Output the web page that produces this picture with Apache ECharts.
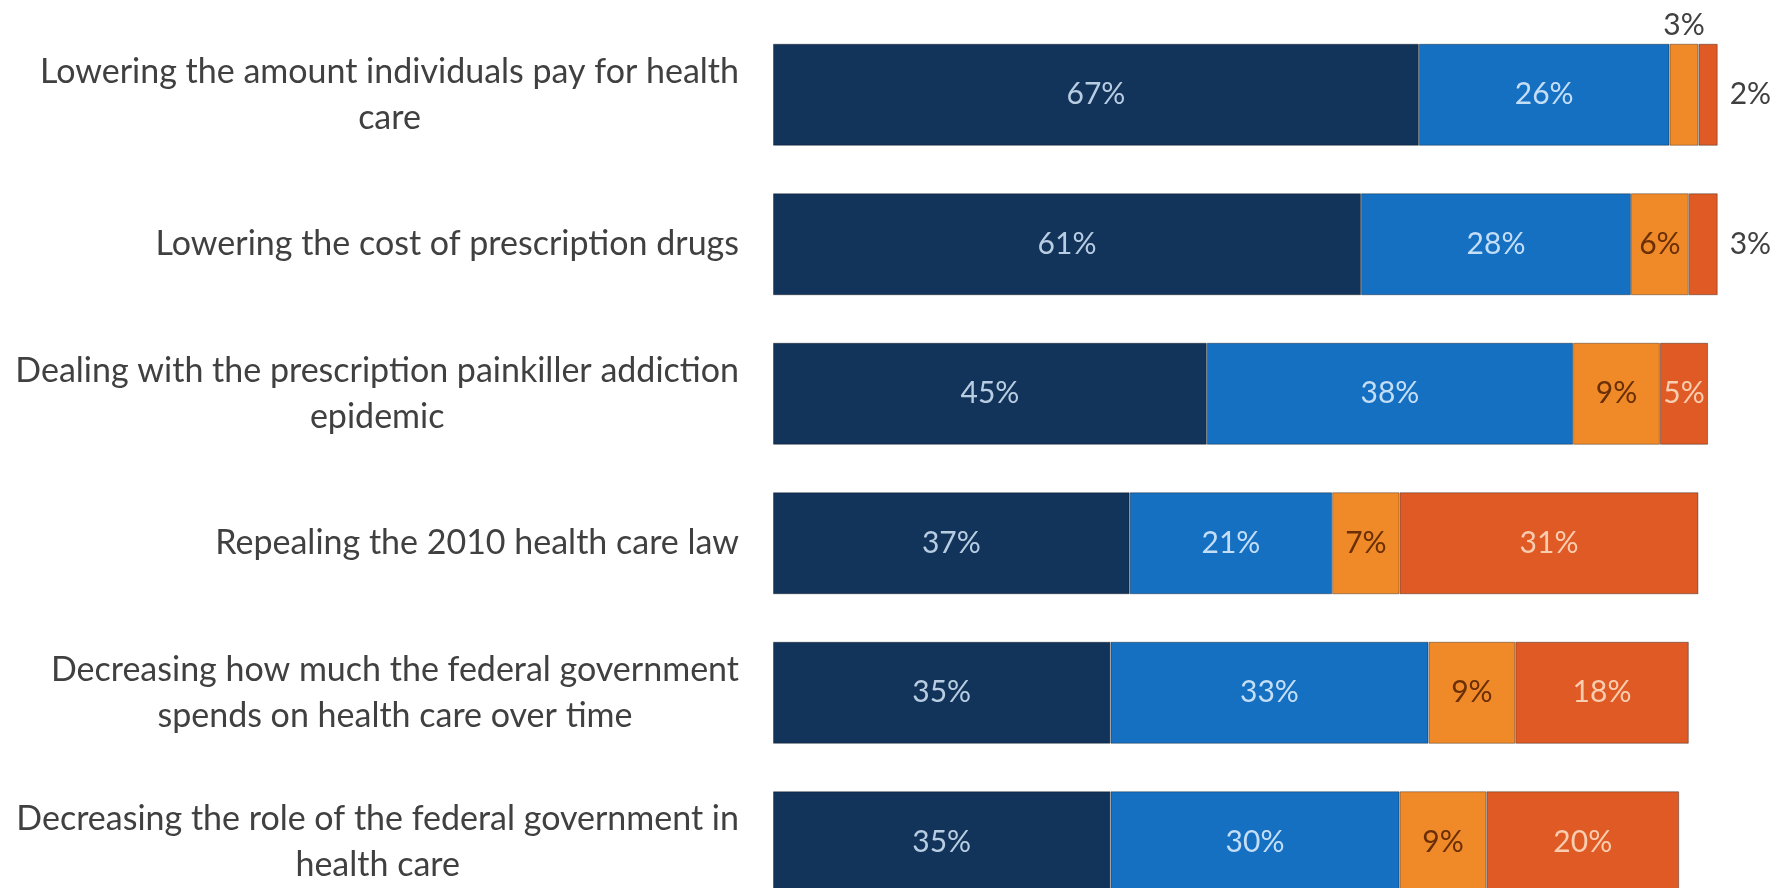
<!DOCTYPE html>
<html>
<head>
<meta charset="utf-8">
<title>Health care priorities</title>
<script src="https://cdn.jsdelivr.net/npm/echarts@6/dist/echarts.min.js"></script>
<style>
  html, body { margin: 0; padding: 0; background: #ffffff; }
  #chart { width: 1783px; height: 888px; }
</style>
</head>
<body>
<div id="chart"></div>
<script>
  const categories = [
    "Lowering the amount individuals pay for health\ncare",
    "Lowering the cost of prescription drugs",
    "Dealing with the prescription painkiller addiction\nepidemic",
    "Repealing the 2010 health care law",
    "Decreasing how much the federal government\nspends on health care over time",
    "Decreasing the role of the federal government in\nhealth care",
  ];
  const topPriority = [67, 61, 45, 37, 35, 35];
  const important = [26, 28, 38, 21, 33, 30];
  const notImportant = [3, 6, 9, 7, 9, 9];
  const shouldNotBeDone = [2, 3, 5, 31, 18, 20];

  const chart = echarts.init(document.getElementById("chart"));

  function makeSeries(name, values, color, textColor, smallPos) {
    return {
      name: name,
      type: "bar",
      stack: "total",
      barWidth: 102,
      itemStyle: { color: color, borderColor: "rgba(0,0,0,0.35)", borderWidth: 1 },
      label: {
        show: true,
        position: "inside",
        formatter: "{c}%",
        color: textColor,
        fontFamily: "Lato",
        fontSize: 30,
      },
      data: values.map((v) => {
        if (smallPos && v <= 3) {
          return {
            value: v,
            label: {
              position: smallPos,
              distance: smallPos === "right" ? 12 : 3,
              color: "#404040",
            },
          };
        }
        return v;
      }),
    };
  }

  const option = {
    backgroundColor: "#ffffff",
    animation: false,
    grid: { left: 773, top: 20, width: 964, height: 897, outerBoundsMode: "none" },
    xAxis: {
      type: "value",
      min: 0,
      max: 100,
      show: false,
    },
    yAxis: {
      type: "category",
      inverse: true,
      data: categories,
      axisLine: { show: false },
      axisTick: { show: false },
      axisLabel: {
        margin: 34,
        fontFamily: "Lato",
        fontSize: 34,
        lineHeight: 46,
        color: "#404040",
        formatter: (v) => v.split("\n").map((s) => "{c|" + s + "}").join("\n"),
        rich: {
          c: { align: "center", fontFamily: "Lato", fontSize: 34, lineHeight: 46, color: "#404040" },
        },
      },
    },
    series: [
      makeSeries("Top priority", topPriority, "#12335a", "#b8cde2", null),
      makeSeries("Important", important, "#1570c2", "#c4def6", null),
      makeSeries("Not too important", notImportant, "#f08a29", "#6a2f06", "top"),
      makeSeries("Should not be done", shouldNotBeDone, "#df5a25", "#f9cdb0", "right"),
    ],
  };

  chart.setOption(option);
</script>
</body>
</html>
